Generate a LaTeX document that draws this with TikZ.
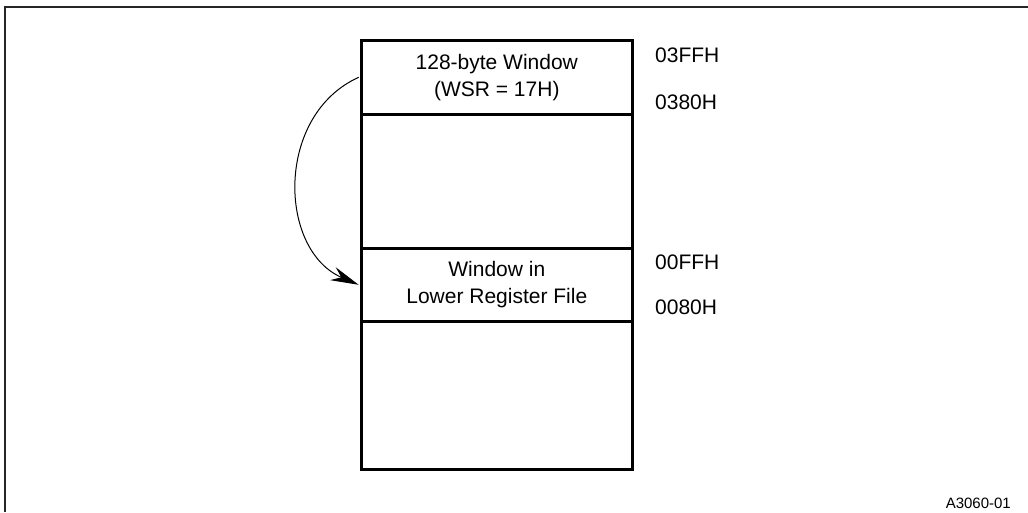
\documentclass[tikz,border=0pt]{standalone}
\usepackage{fontspec}
\setmainfont{Liberation Sans}
\usetikzlibrary{arrows.meta}
\begin{document}
\begin{tikzpicture}[x=1pt,y=-1pt,
  block/.style={draw=black,line width=2.6pt,minimum width=271pt,inner sep=0pt,anchor=north west,align=center,font=\fontsize{21}{27}\selectfont},
  addr/.style={anchor=west,inner sep=0pt,font=\fontsize{21}{25}\selectfont},
  frameline/.style={draw=black!85,line width=2pt}]
\useasboundingbox (0,0) rectangle (1028,512);
\draw[frameline] (4.5,512) -- (4.5,6.7) -- (1028,6.7);
\node[block,minimum height=74pt] (top) at (360,39) {128-byte Window\\(WSR = 17H)};
\node[block,minimum height=134pt] (mid) at (360,113) {};
\node[block,minimum height=73pt] (win) at (360,247) {Window in\\Lower Register File};
\node[block,minimum height=148pt] (bot) at (360,320) {};
\node[addr] (a1) at (655,55) {03FFH};
\node[addr] (a2) at (655,102) {0380H};
\node[addr] (a3) at (655,262) {00FFH};
\node[addr] (a4) at (655,307) {0080H};
\node[anchor=east,inner sep=0pt,font=\fontsize{15}{18}\selectfont] (id) at (1011,503) {A3060-01};
\draw[line width=1pt,-{Stealth[length=28pt,width=14pt]}] ([xshift=-1.3pt]top.west) .. controls (275,115) and (278,250) .. ([xshift=-1.3pt]win.west);
\end{tikzpicture}
\end{document}
